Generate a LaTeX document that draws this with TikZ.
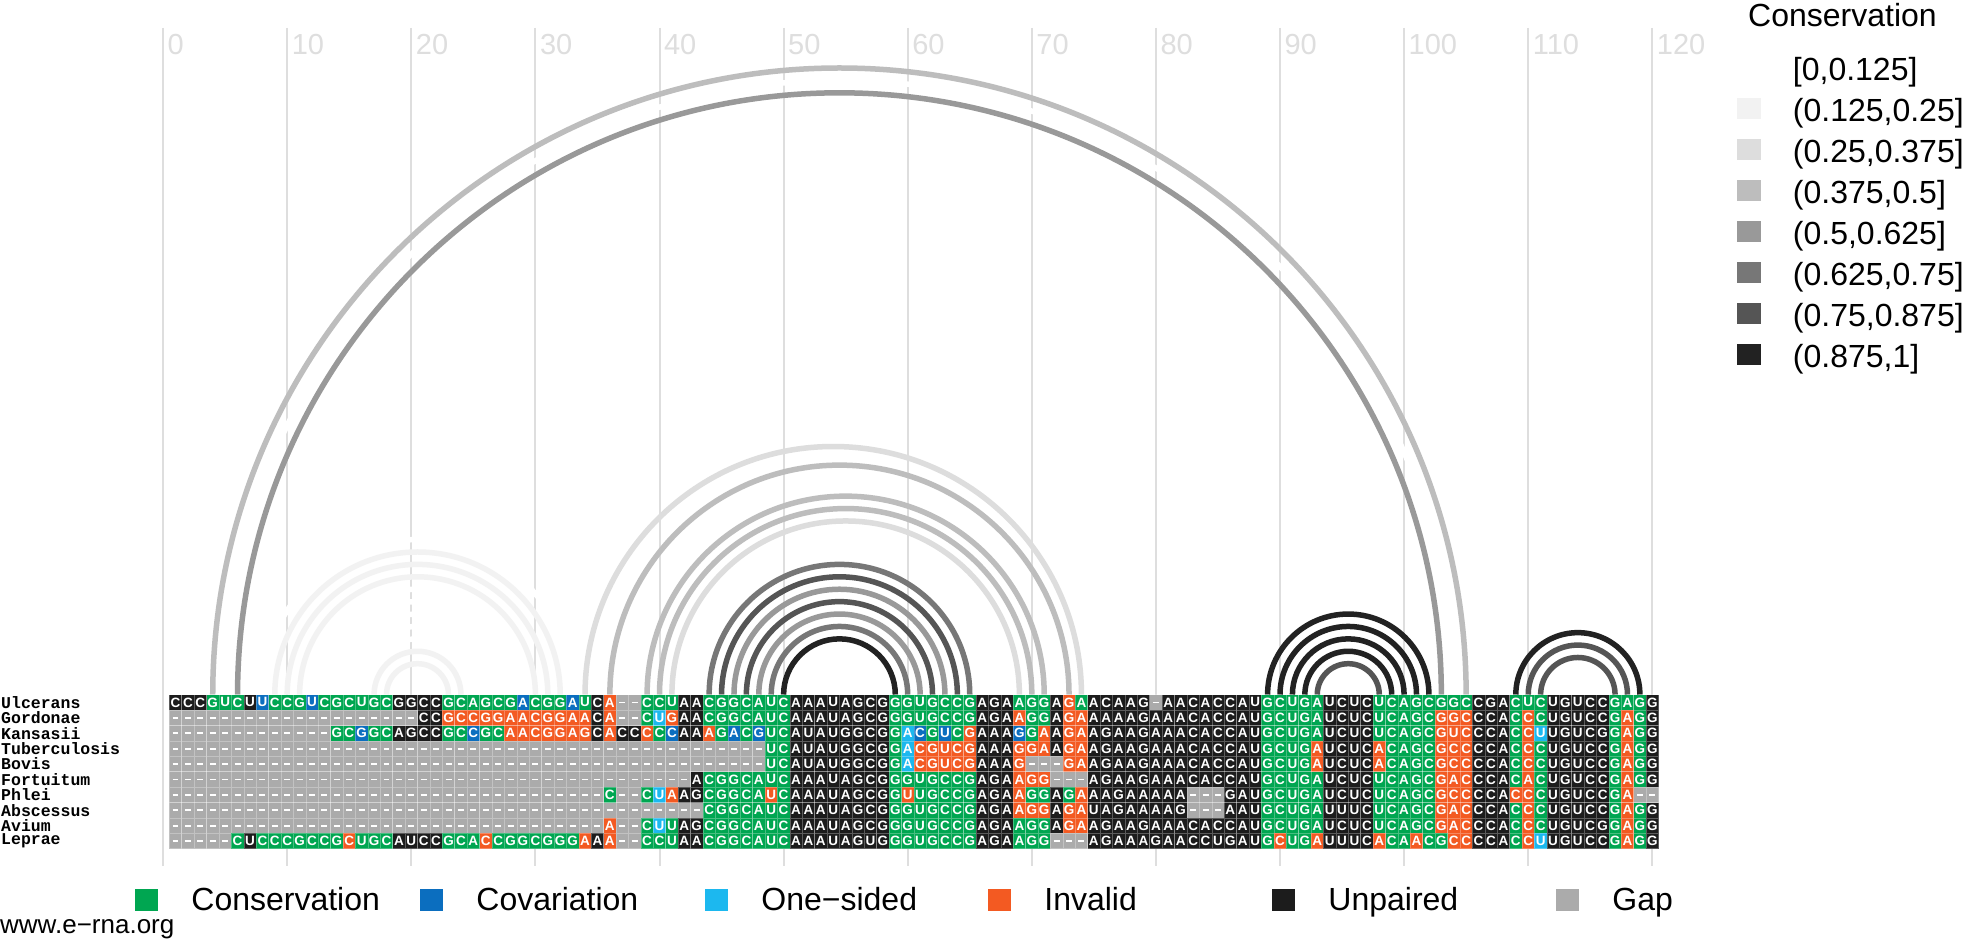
\documentclass[tikz,border=0pt]{standalone}
\usepackage{fontspec}
\setmainfont{Liberation Sans}
\setmonofont{Liberation Mono}
\usetikzlibrary{positioning,backgrounds}
\pgfdeclarelayer{background}
\pgfdeclarelayer{bg1}
\pgfsetlayers{background,bg1,main}
\definecolor{conscol}{HTML}{00A651}
\definecolor{covcol}{HTML}{0B6EBF}
\definecolor{onecol}{HTML}{1CB8EF}
\definecolor{invcol}{HTML}{F35A22}
\definecolor{unpcol}{HTML}{1C1C1C}
\definecolor{gapcol}{HTML}{ABABAB}
\definecolor{gridcol}{HTML}{DEDEDE}
\definecolor{lvl0}{HTML}{FFFFFF}
\definecolor{lvl1}{HTML}{F2F2F2}
\definecolor{lvl2}{HTML}{DDDDDD}
\definecolor{lvl3}{HTML}{BDBDBD}
\definecolor{lvl4}{HTML}{999999}
\definecolor{lvl5}{HTML}{777777}
\definecolor{lvl6}{HTML}{555555}
\definecolor{lvl7}{HTML}{222222}
% cell fills, one per code letter
\colorlet{cellG}{conscol}
\colorlet{cellB}{covcol}
\colorlet{cellL}{onecol}
\colorlet{cellO}{invcol}
\colorlet{cellK}{unpcol}
\colorlet{cellX}{gapcol}
\tikzstyle{seq cell} = [draw=white, draw opacity=.28, line width=.5pt]
\tikzstyle{gap mark} = [white, line width=1.8pt]
\tikzstyle{grid line} = [gridcol, line width=2pt]
\tikzstyle{pair arc} = [line width=5.5pt]
\tikzset{
  base letter/.style = {
    text=white,
    inner sep=0pt,
    font=\fontsize{13.5}{14}\selectfont\bfseries,
    },
  axis label/.style = {
    text=gridcol,
    anchor=base west,
    inner sep=0pt,
    font=\fontsize{29}{32}\selectfont,
    },
  legend text/.style = {
    inner sep=0pt,
    font=\fontsize{32}{36}\selectfont,
    },
  species/.style = {
    anchor=west,
    inner sep=0pt,
    font=\fontsize{16.5}{18}\selectfont\ttfamily\bfseries,
    },
  key box/.style = {
    shape=rectangle,
    draw=#1,
    fill=#1,
    inner sep=0pt,
    },
}
\newcount\colidx
\newcommand{\alnrow}[3]{\colidx=0 \def\rowidx{#1}\alncell#2\relax#3\relax}
\def\alncell#1#2\relax#3#4\relax{%
  \advance\colidx by 1
  \path[seq cell, fill=cell#3] (\the\colidx-1,\rowidx-1) rectangle (\the\colidx,\rowidx);
  \if X#3
    \draw[gap mark] (\the\colidx-.74,\rowidx-.5) -- (\the\colidx-.26,\rowidx-.5);
  \else
    \node[base letter] (s\rowidx-\the\colidx) at (\the\colidx-.5,\rowidx-.5) {#1};
  \fi
  \ifx\relax#2\relax\else\alncell#2\relax#4\relax\fi}

\begin{document}
\begin{tikzpicture}[x=1pt,y=1pt]
  \useasboundingbox (0,0) rectangle (1969,-939);

  % position grid
  \begin{pgfonlayer}{background}
    \fill[white] (0,0) rectangle (1969,-939);
    \foreach \v in {0,10,...,120}{
      \draw[grid line] (163.1+12.41*\v,-28) -- (163.1+12.41*\v,-866);
      \node[axis label] (tick-\v) at (167.5+12.41*\v,-55) {\v};
    }
  \end{pgfonlayer}

  % base pair arcs
  \begin{pgfonlayer}{bg1}
    \foreach \i/\j/\c in {4/105/lvl3, 5/104/lvl0, 6/103/lvl4,
        8/33/lvl0, 9/32/lvl1, 10/31/lvl1, 11/30/lvl1, 12/29/lvl0, 13/28/lvl0,
        14/27/lvl0, 15/26/lvl0, 16/25/lvl0, 17/24/lvl1, 18/23/lvl1,
        34/74/lvl2, 36/73/lvl3, 39/71/lvl3, 40/70/lvl3, 41/69/lvl2,
        44/65/lvl5, 45/64/lvl6, 46/63/lvl4, 47/62/lvl6, 48/61/lvl4, 49/60/lvl5, 50/59/lvl7,
        89/102/lvl7, 90/101/lvl7, 91/100/lvl7, 92/99/lvl7, 93/98/lvl6,
        109/119/lvl7, 110/118/lvl6, 111/117/lvl6}{
      \draw[pair arc, \c] (163.1+12.41*\i,-694.7)
        arc[start angle=180, end angle=0, radius={6.205*(\j-\i)}];
    }
  \end{pgfonlayer}

  % alignment
  \begin{scope}[shift={(169.3,-694.7)}, x=12.41pt, y=-15.4pt]
    \alnrow{1}{CCCGUCUUCC GUCGCUGCGG CCGCAGCGAC GGAUCA--CC UAACGGCAUC AAAUAGCGGG UGCCGAGAAG GAGAACAAG- AACACCAUGC UGAUCUCUCA GCGGCCGACU CUGUCCGAGG}
      {KKKGGGKBGG GBGGGGGGKK KKGGGGGGBG GGBGKOXXGG GKKGGGGGGG KKKKKKKKGG GGGGGKKKGG GKOGKKKKKX KKKKKKKKGG GGGKKKKGGG GGGGGKKKGG GKKKKKGGGK}
    \alnrow{2}{---------- ---------- CCGCCGGAAC GGAACA--CU GAACGGCAUC AAAUAGCGGG UGCCGAGAAG GAGAAAAAGA AACACCAUGC UGAUCUCUCA GCGGCCCACC CUGUCCGAGG}
      {XXXXXXXXXX XXXXXXXXXX KKOOOOOOOO OOOOKOXXGL OKKGGGGGGG KKKKKKKKGG GGGGGKKKOG GKOOKKKKKK KKKKKKKKGG GGGKKKKGGG GGOOOKKKGO GKKKKKGOGK}
    \alnrow{3}{---------- ---GCGGCAG CCGCCGCAAC GGAGCACCCC CAAAGACGUC AUAUGGCGGA CGUCGAAAGG AAGAAGAAGA AACACCAUGC UGAUCUCUCA GCGUCCCACC UUGUCGGAGG}
      {XXXXXXXXXX XXXGGBGGKK KKGGBGGOOO OOOOKOKKOG BKKOGBGBGG KKKKKKKKGL BGBGOKKKBG OKOOKKKKKK KKKKKKKKGG GGGKKKKGGG GGOOOKKKGO LKKKKKGOGK}
    \alnrow{4}{---------- ---------- ---------- ---------- --------UC AUAUGGCGGA CGUCGAAAGG AAGAAGAAGA AACACCAUGC UGAUCUCACA GCGCCCCACC CUGUCCGAGG}
      {XXXXXXXXXX XXXXXXXXXX XXXXXXXXXX XXXXXXXXXX XXXXXXXXGG KKKKKKKKGL OOOOOKKKOO OKOOKKKKKK KKKKKKKKGG GGOKKKKOGG GGOOOKKKGO GKKKKKGOGK}
    \alnrow{5}{---------- ---------- ---------- ---------- --------UC AUAUGGCGGA CGUCGAAAG- --GAAGAAGA AACACCAUGC UGAUCUCACA GCGCCCCACC CUGUCCGAGG}
      {XXXXXXXXXX XXXXXXXXXX XXXXXXXXXX XXXXXXXXXX XXXXXXXXGG KKKKKKKKGL OOOOOKKKOX XXOOKKKKKK KKKKKKKKGG GGOKKKKOGG GGOOOKKKGO GKKKKKGOGK}
    \alnrow{6}{---------- ---------- ---------- ---------- --ACGGCAUC AAAUAGCGGG UGCCGAGAAG G---AGAAGA AACACCAUGC UGAUCUCUCA GCGACCCACA CUGUCCGAGG}
      {XXXXXXXXXX XXXXXXXXXX XXXXXXXXXX XXXXXXXXXX XXKGGGGGGG KKKKKKKKGG GGGGGKKKOO OXXXKKKKKK KKKKKKKKGG GGGKKKKGGG GGOOOKKKGO GKKKKKGOGK}
    \alnrow{7}{---------- ---------- ---------- -----C--CU AAGCGGCAUC AAAUAGCGGU UGCCGAGAAG GAGAAAGAAA AA---GAUGC UGAUCUCUCA GCGCCCCACC CUGUCCGA--}
      {XXXXXXXXXX XXXXXXXXXX XXXXXXXXXX XXXXXGXXGL OKKGGGGGOG KKKKKKKKGO GGGGGKKKOG GKGOKKKKKK KKXXXKKKGG GGGKKKKGGG GGOOOKKKOO GKKKKKGOXX}
    \alnrow{8}{---------- ---------- ---------- ---------- ---CGGCAUC AAAUAGCGGG UGCCGAGAAG GAGAUAGAAA AG---AAUGC UGAUUUCUCA GCGACCCACC CUGUCCGAGG}
      {XXXXXXXXXX XXXXXXXXXX XXXXXXXXXX XXXXXXXXXX XXXGGGGGGG KKKKKKKKGG GGGGGKKKOO OKOOKKKKKK KKXXXKKKGG GGGKKKKGGG GGOOOKKKGO GKKKKKGOGK}
    \alnrow{9}{---------- ---------- ---------- -----A--CU UAGCGGCAUC AAAUAGCGGG UGCCGAGAAG GAGAAGAAGA AACACCAUGC UGAUCUCUCA GCGACCCACC CUGUCGGAGG}
      {XXXXXXXXXX XXXXXXXXXX XXXXXXXXXX XXXXXOXXGL GKKGGGGGGG KKKKKKKKGG GGGGGKKKGG GKOOKKKKKK KKKKKKKKGG GGGKKKKGGG GGOOOKKKGO GKKKKKGOGK}
    \alnrow{10}{-----CUCCC GCCGCUGCAU CCGCACCGGC GGGAAA--CC UAACGGCAUC AAAUAGUGGG UGCCGAGAAG G---AGAAAG AACCUGAUGC UGAUUUCACA ACGCCCCACC UUGUCCGAGG}
      {XXXXXGKGGG GGGGOGGGKK KKGGGOGGGG GGGOKOXXGG GKKGGGGGGG KKKKKKKKGG GGGGGKKKGG GXXXKKKKKK KKKKKKKKGO GGOKKKKOGG OGGOOKKKGO LKKKKKGOGK}
  \end{scope}

  % species names
  \foreach \name [count=\r] in {Ulcerans, Gordonae, Kansasii, Tuberculosis, Bovis,
      Fortuitum, Phlei, Abscessus, Avium, Leprae}{
    \node[species] (sp-\r) at (1,{-694.7-15.4*(\r-0.5)}) {\name};
  }

  % conservation legend
  \node[legend text, anchor=base west] (cons-title) at (1748,-27) {Conservation};
  \foreach \lab [count=\k from 0] in {{[0,0.125]}, {(0.125,0.25]}, {(0.25,0.375]},
      {(0.375,0.5]}, {(0.5,0.625]}, {(0.625,0.75]}, {(0.75,0.875]}, {(0.875,1]}}{
    \node[key box=lvl\k, minimum width=23pt, minimum height=20pt] (key-\k)
      at (1749,{-67-41*\k}) {};
    \node[legend text, right=32pt of key-\k.south east, anchor=base west, yshift=-3pt]
      (keylab-\k) {\lab};
  }

  % pairing legend
  \foreach \c/\lab/\x [count=\k] in {conscol/Conservation/146, covcol/Covariation/431,
      onecol/One−sided/716, invcol/Invalid/999, unpcol/Unpaired/1283, gapcol/Gap/1567}{
    \node[key box=\c, minimum width=22pt, minimum height=21pt] (cat-\k) at (\x,-900) {};
    \node[legend text, right=34pt of cat-\k.south east, anchor=base west] (catlab-\k) {\lab};
  }

  \node[anchor=base west, inner sep=0pt, font=\fontsize{26}{30}\selectfont]
    (site) at (0,-933) {www.e−rna.org};
\end{tikzpicture}
\end{document}
